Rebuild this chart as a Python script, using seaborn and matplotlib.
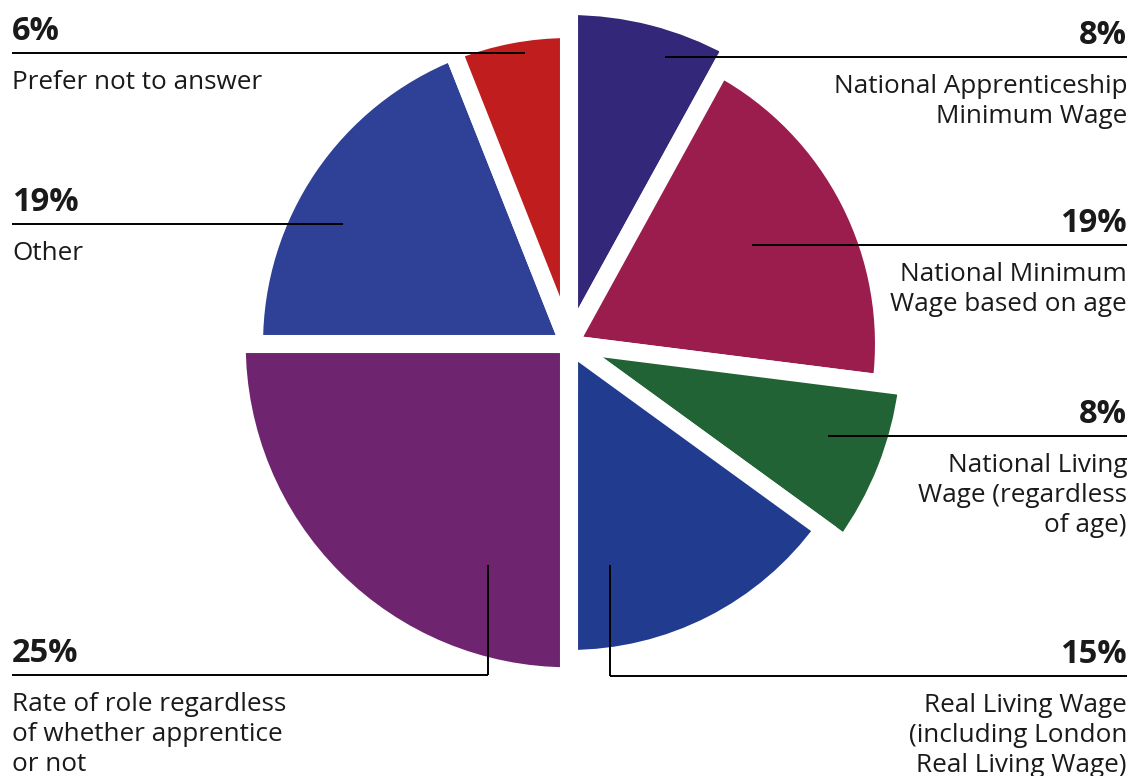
import matplotlib.pyplot as plt
import seaborn as sns

# wedge data, clockwise from 12 o'clock
labels = [
    "National Apprenticeship\nMinimum Wage",
    "National Minimum\nWage based on age",
    "National Living\nWage (regardless\nof age)",
    "Real Living Wage\n(including London\nReal Living Wage)",
    "Rate of role regardless\nof whether apprentice\nor not",
    "Other",
    "Prefer not to answer",
]
values = [8, 19, 8, 15, 25, 19, 6]
colors = ["#33277a", "#9b1d4d", "#216334", "#213b8f", "#6f2470", "#2e4196", "#c01e1e"]

# styling: some wedges stick out further than the others
radius_scale = [1.073, 1.0, 1.083, 1.0, 1.055, 1.0, 1.0]
R = 315
H = 776  # image height, to convert image y to data y

# label layout (image pixel coords): side, leader line y, leader end x, elbow top y
layout = [
    ("right", 57, 665, None),
    ("right", 245, 752, None),
    ("right", 436, 828, None),
    ("right", 676, 610, 565),
    ("left", 675, 488, 565),
    ("left", 224, 343, None),
    ("left", 53, 525, None),
]

sns.set_theme(style="white")
plt.rcParams["font.family"] = ["Open Sans", "DejaVu Sans"]

fig = plt.figure(figsize=(11.32, 7.76), dpi=100)
ax = fig.add_axes([0, 0, 1, 1])

wedges, _ = ax.pie(values, colors=sns.color_palette(colors), startangle=90,
                   counterclock=False, center=(569, H - 344), radius=R,
                   wedgeprops=dict(edgecolor="white", linewidth=13))
for w, s in zip(wedges, radius_scale):
    w.set_radius(R * s)

ax.set_xlim(0, 1132)
ax.set_ylim(0, H)
ax.set_aspect("equal")
ax.axis("off")

for lab, v, (side, ly, ex, elbow) in zip(labels, values, layout):
    if side == "left":
        x0, ha = 12, "left"
    else:
        x0, ha = 1127, "right"
    ax.plot([x0, ex], [H - ly, H - ly], color="black", lw=1.4, solid_capstyle="butt")
    if elbow is not None:
        ax.plot([ex, ex], [H - ly, H - elbow], color="black", lw=1.4, solid_capstyle="butt")
    ax.text(x0, H - (ly - 13), f"{v}%", ha=ha, va="baseline", fontsize=23.5,
            fontweight="bold", color="#1a1a1a")
    ax.text(x0, H - (ly + 17), lab, ha=ha, va="top", fontsize=18.8,
            color="#1a1a1a", linespacing=1.26, multialignment=ha)

fig.savefig("out.png", dpi=100)
